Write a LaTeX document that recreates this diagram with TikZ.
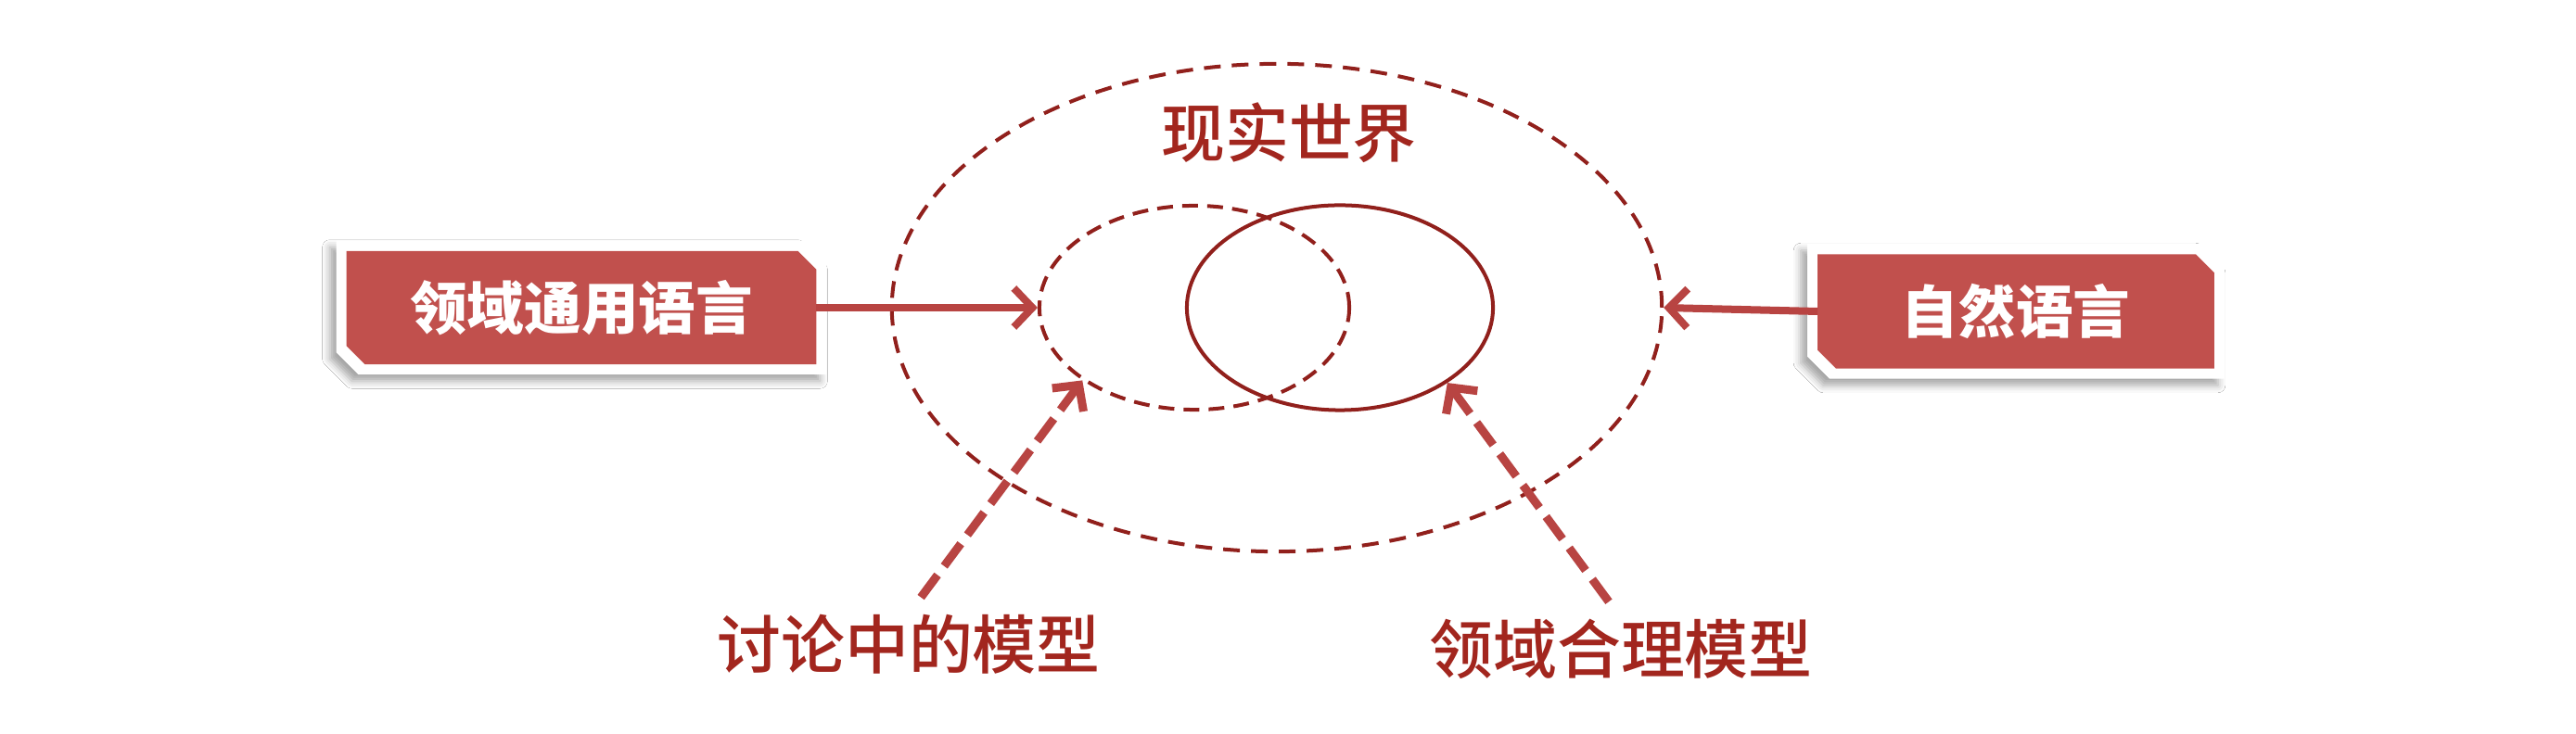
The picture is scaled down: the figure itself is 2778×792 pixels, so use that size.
\documentclass[tikz,border=0pt]{standalone}
\usepackage{fontspec}
\IfFontExistsTF{Noto Sans CJK SC Medium}
  {\newfontfamily\cjk{Noto Sans CJK SC Medium}}
  {\newfontfamily\cjk{Noto Sans CJK SC}[FakeBold=0.6]}
\IfFontExistsTF{Noto Sans CJK SC Black}
  {\newfontfamily\cjkb{Noto Sans CJK SC Black}}
  {\newfontfamily\cjkb{Noto Sans CJK SC Bold}}
\usetikzlibrary{arrows.meta,shapes.geometric,backgrounds,shadows.blur}
\definecolor{ellred}{RGB}{145,32,28}
\definecolor{txtred}{RGB}{162,38,30}
\definecolor{arrred}{RGB}{184,68,66}
\definecolor{boxred}{RGB}{193,80,77}
% node, chamfer, pad
\newcommand\chamfpath[3]{([shift={(-#3,#3)}]#1.north west) -- ([shift={(#3-#2,#3)}]#1.north east) -- ([shift={(#3,#3-#2)}]#1.north east) -- ([shift={(#3,-#3)}]#1.south east) -- ([shift={(-#3+#2,-#3)}]#1.south west) -- ([shift={(-#3,-#3+#2)}]#1.south west) -- cycle}
\begin{document}
\begin{tikzpicture}[x=0.01cm,y=-0.01cm,
  ring/.style={ellipse, draw=ellred, line width=0.04cm, inner sep=0pt},
  dashring/.style={ring, dash pattern=on 0.18cm off 0.12cm},
  lbl/.style={font=\cjk\fontsize{19.6pt}{22pt}\selectfont, text=txtred, inner sep=0pt},
  boxlbl/.style={font=\cjkb\fontsize{17.5pt}{20pt}\selectfont, text=white, inner sep=0pt},
  solidarr/.style={draw=arrred, line width=0.08cm, -{Straight Barb[length=0.2cm,width=0.42cm]}},
  dasharr/.style={solidarr, line width=0.09cm, dash pattern=on 0.3cm off 0.12cm},
  boxshadow/.style={fill=white, blur shadow={shadow xshift=-0.07cm, shadow yshift=-0.07cm, shadow blur radius=0.08cm, shadow opacity=35}},
]
\useasboundingbox (0,0) rectangle (2778,792);

% ellipses
\node[dashring, minimum width=8.3cm, minimum height=5.26cm] (O) at (1377,332) {};
\node[dashring, dash pattern=on 0.17cm off 0.1cm, minimum width=3.34cm, minimum height=2.2cm] (D) at (1288,332) {};
\node[ring, minimum width=3.3cm, minimum height=2.21cm] (S) at (1445,332) {};

% texts
\node[lbl] (W) at (1390,143) {现实世界};
\node[lbl] (T1) at (980,695) {讨论中的模型};
\node[lbl] (T2) at (1748,700) {领域合理模型};

% boxes
\node[boxlbl, minimum width=5.05cm, minimum height=1.21cm] (L) at (627,332) {领域通用语言};
\node[boxlbl, minimum width=4.26cm, minimum height=1.22cm] (R) at (2174,336) {自然语言};
\begin{scope}[on background layer]
  \fill[white] (0,0) rectangle (2778,792);
  \path[boxshadow] \chamfpath{L}{0.24cm}{0.11cm};
  \fill[boxred] \chamfpath{L}{0.2cm}{0pt};
  \path[boxshadow] \chamfpath{R}{0.24cm}{0.11cm};
  \fill[boxred] \chamfpath{R}{0.2cm}{0pt};
\end{scope}

% connectors
\draw[solidarr] (L.east) -- (D.west);
\draw[solidarr] (R.west) -- (O.east);
\draw[dasharr, shorten <=0.22cm] (T1.north) -- (D.213);
\draw[dasharr, shorten <=0.22cm] (T2.north) -- (S.325);
\end{tikzpicture}
\end{document}
